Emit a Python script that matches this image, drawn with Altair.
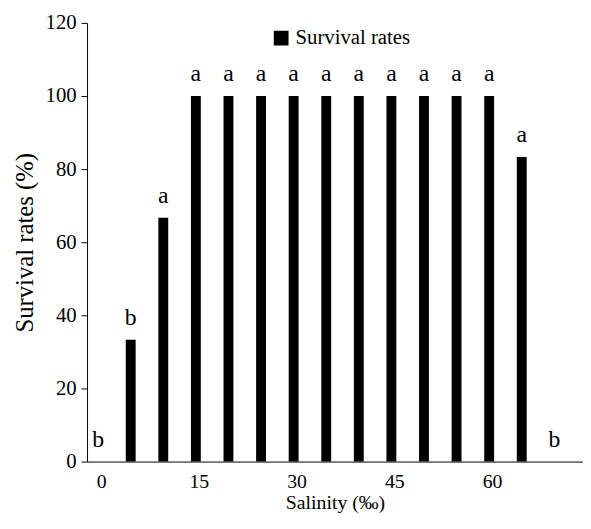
import altair as alt
import pandas as pd

salinity = [0, 5, 10, 15, 20, 25, 30, 35, 40, 45, 50, 55, 60, 65, 70]
survival = [0, 33.3, 66.7, 100, 100, 100, 100, 100, 100, 100, 100, 100, 100, 83.3, 0]
letters = ["b", "b", "a", "a", "a", "a", "a", "a", "a", "a", "a", "a", "a", "a", "b"]
x_ticks = [0, 15, 30, 45, 60]
series_name = "Survival rates"

df = pd.DataFrame({"salinity": salinity, "survival": survival, "letter": letters,
                   "series": [series_name] * len(salinity)})

FONT = "Liberation Serif"

x = alt.X("salinity:Q", title="Salinity (‰)",
          scale=alt.Scale(domain=[-1.7, 74.4], nice=False, zero=False, padding=0),
          axis=alt.Axis(values=x_ticks, ticks=False, grid=False, labelPadding=10,
                        labelOffset=3,
                        labelFontSize=20, titleFontSize=20, titlePadding=2,
                        domainColor="black", labelColor="black", titleColor="black",
                        labelFont=FONT, titleFont=FONT, titleFontWeight="normal"))
y = alt.Y("survival:Q", title="Survival rates (%)",
          scale=alt.Scale(domain=[0, 120], nice=False, padding=0),
          axis=alt.Axis(values=list(range(0, 121, 20)), grid=False, tickSize=6,
                        tickColor="black", domainColor="black", labelColor="black",
                        titleColor="black", labelFontSize=21, titleFontSize=25,
                        labelPadding=5, titlePadding=8,
                        labelFont=FONT, titleFont=FONT, titleFontWeight="normal"))

bars = alt.Chart(df).mark_bar(size=10).encode(
    x=x, y=y,
    color=alt.Color("series:N", scale=alt.Scale(range=["black"]),
                    legend=alt.Legend(title=None, orient="none", legendX=186, legendY=5,
                                      symbolType="square", symbolSize=180,
                                      symbolFillColor="black", symbolStrokeColor="black",
                                      labelFont=FONT, labelFontSize=21, labelColor="black")),
)

text = alt.Chart(df).mark_text(dy=-15, baseline="alphabetic", fontSize=24, font=FONT,
                               color="black").encode(
    x="salinity:Q", y="survival:Q", text="letter:N")

chart = (bars + text).properties(
    width=502, height=444,
    padding={"left": 80, "top": 12, "right": 0, "bottom": 50},
    autosize="none",
).configure_view(stroke=None)

chart.save("out.html", embed_options={"renderer": "svg", "actions": False})
